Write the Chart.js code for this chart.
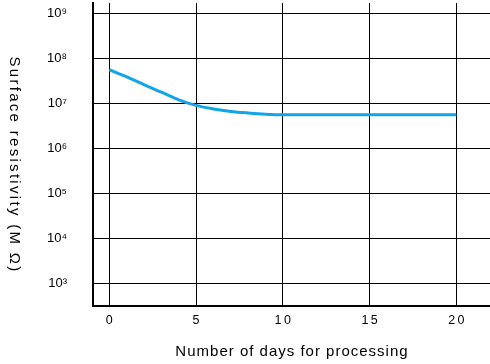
<!DOCTYPE html>
<html>
<head>
<meta charset="utf-8">
<script src="https://cdn.jsdelivr.net/npm/chart.js@4/dist/chart.umd.min.js"></script>
<style>
html,body{margin:0;padding:0;background:#fff;}
#wrap{width:490px;height:364px;position:relative;}
</style>
</head>
<body>
<div id="wrap"><canvas id="c" width="490" height="364"></canvas></div>
<script>
// Data
const days = [0, 1, 2, 3, 4, 5, 6, 7, 8, 9, 10, 15, 20];
const resistivity = [5.6e7, 3.9e7, 2.6e7, 1.77e7, 1.2e7, 9.0e6, 7.5e6, 6.6e6, 6.1e6, 5.75e6, 5.6e6, 5.6e6, 5.6e6];
const xTicks = [0, 5, 10, 15, 20];
const yTickValues = [1e3, 1e4, 1e5, 1e6, 1e7, 1e8, 1e9];
const yTickLabels = ['10³', '10⁴', '10⁵', '10⁶', '10⁷', '10⁸', '10⁹'];
const xTitle = 'Number of days for processing';
const yTitle = 'Surface resistivity (M Ω)';

const FONT = '"Liberation Sans", Arial, Helvetica, sans-serif';
const NARROW = '"Liberation Sans Narrow", "Liberation Sans", Arial, sans-serif';

const titlesPlugin = {
  id: 'titles',
  afterLayout(chart) {
    const s = chart.scales.x;
    if (!s._lsPatched) {
      const orig = s.drawLabels.bind(s);
      s.drawLabels = function (ca) {
        const ctx = chart.ctx;
        ctx.save();
        ctx.letterSpacing = '2.5px';
        ctx.translate(1.25, 0);
        orig(ca);
        ctx.restore();
      };
      s._lsPatched = true;
    }
  },
  afterDraw(chart) {
    const ctx = chart.ctx;
    ctx.save();
    ctx.fillStyle = '#000';
    ctx.font = '15px ' + FONT;
    ctx.textAlign = 'center';
    ctx.textBaseline = 'alphabetic';
    // x title
    ctx.letterSpacing = '1px';
    ctx.fillText(xTitle, 292, 356);
    // y title, rotated clockwise
    ctx.translate(10, 165);
    ctx.rotate(Math.PI / 2);
    ctx.letterSpacing = '2.3px';
    ctx.fillText(yTitle, 0, 0);
    ctx.restore();
  }
};

new Chart(document.getElementById('c'), {
  type: 'line',
  data: {
    datasets: [{
      data: days.map((d, i) => ({ x: d, y: resistivity[i] })),
      borderColor: '#12a4e8',
      borderWidth: 3,
      pointRadius: 0,
      fill: false,
      cubicInterpolationMode: 'monotone'
    }]
  },
  options: {
    responsive: false,
    animation: false,
    layout: { padding: { top: 3, right: 0, left: 0, bottom: 0 } },
    plugins: { legend: { display: false }, tooltip: { enabled: false } },
    scales: {
      x: {
        type: 'linear',
        min: -0.94,
        max: 21.94,
        afterBuildTicks: s => { s.ticks = xTicks.map(v => ({ value: v })); },
        afterFit: s => { s.height = 58; s.paddingLeft = 0; s.paddingRight = 0; },
        grid: { color: '#000', lineWidth: 1, drawTicks: false },
        border: { color: '#000', width: 2 },
        ticks: {
          color: '#000',
          font: { family: FONT, size: 12.5 },
          padding: 7,
          maxRotation: 0,
          callback: v => String(v)
        }
      },
      y: {
        type: 'logarithmic',
        min: Math.pow(10, 2.488),
        max: Math.pow(10, 9.234),
        afterBuildTicks: s => { s.ticks = yTickValues.map(v => ({ value: v })); },
        afterFit: s => { s.width = 93; s.paddingTop = 0; s.paddingBottom = 0; },
        grid: { color: '#000', lineWidth: 1, drawTicks: false },
        border: { color: '#000', width: 2 },
        ticks: {
          color: '#000',
          font: { family: NARROW, size: 13 },
          padding: 26,
          callback: (v) => {
            const i = yTickValues.findIndex(t => Math.abs(t - v) / t < 1e-6);
            return i >= 0 ? yTickLabels[i] : '';
          }
        }
      }
    }
  },
  plugins: [titlesPlugin]
});
</script>
</body>
</html>
